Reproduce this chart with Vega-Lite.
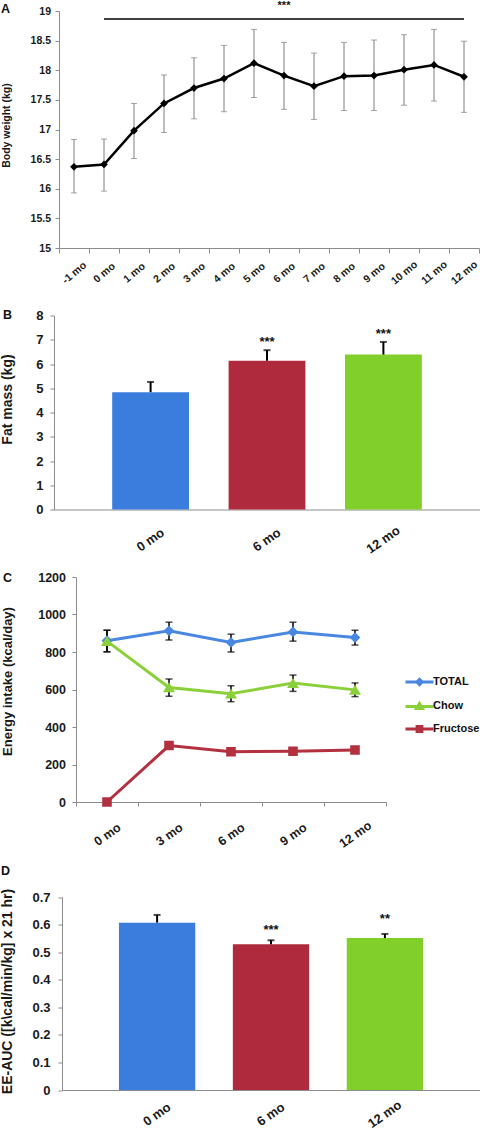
{
  "$schema": "https://vega.github.io/schema/vega-lite/v6.json",
  "background": "white",
  "padding": 0,
  "spacing": 67.5,
  "bounds": "flush",
  "resolve": {"legend": {"color": "independent", "shape": "independent"}},
  "config": {
    "font": "Liberation Sans",
    "view": {"stroke": null},
    "axis": {"grid": false, "domainColor": "#8c8c8c", "tickColor": "#8c8c8c", "labelColor": "#1a1a1a", "titleColor": "#1a1a1a", "labelFontWeight": "bold", "titleFontWeight": "bold", "labelFont": "Liberation Sans", "titleFont": "Liberation Sans", "labelOverlap": false},
    "title": {"fontSize": 12.5, "fontWeight": "bold", "color": "#111111", "anchor": "start", "frame": "group", "offset": 0, "font": "Liberation Sans"}
  },
  "vconcat": [
    {
      "width": 426, "height": 237,
      "title": {"text": "A", "dx": -53, "dy": 19},
      "data": {"values": [
        {"m": "-1 mo", "w": 16.37, "lo": 15.93, "hi": 16.83},
        {"m": "0 mo", "w": 16.41, "lo": 15.96, "hi": 16.84},
        {"m": "1 mo", "w": 16.98, "lo": 16.51, "hi": 17.44},
        {"m": "2 mo", "w": 17.44, "lo": 16.95, "hi": 17.92},
        {"m": "3 mo", "w": 17.70, "lo": 17.18, "hi": 18.21},
        {"m": "4 mo", "w": 17.86, "lo": 17.30, "hi": 18.42},
        {"m": "5 mo", "w": 18.12, "lo": 17.54, "hi": 18.69},
        {"m": "6 mo", "w": 17.91, "lo": 17.34, "hi": 18.47},
        {"m": "7 mo", "w": 17.73, "lo": 17.17, "hi": 18.29},
        {"m": "8 mo", "w": 17.90, "lo": 17.32, "hi": 18.47},
        {"m": "9 mo", "w": 17.91, "lo": 17.32, "hi": 18.51},
        {"m": "10 mo", "w": 18.01, "lo": 17.41, "hi": 18.60},
        {"m": "11 mo", "w": 18.09, "lo": 17.48, "hi": 18.69},
        {"m": "12 mo", "w": 17.89, "lo": 17.29, "hi": 18.49}
      ]},
      "encoding": {
        "x": {"field": "m", "type": "ordinal",
          "scale": {"domain": ["-1 mo","0 mo","1 mo","2 mo","3 mo","4 mo","5 mo","6 mo","7 mo","8 mo","9 mo","10 mo","11 mo","12 mo"], "range": [5, 425], "paddingInner": 0, "paddingOuter": 0},
          "axis": {"title": null, "labelAngle": -40, "labelAlign": "center", "labelBaseline": "middle", "labelPadding": 19.5, "tickBand": "extent", "tickSize": 5, "labelFontSize": 10.5}}
      },
      "layer": [
        {"mark": {"type": "rule", "color": "#7f7f7f", "strokeWidth": 1},
         "encoding": {
           "y": {"field": "lo", "type": "quantitative", "title": "Body weight (kg)", "scale": {"domain": [15, 19], "zero": false},
             "axis": {"values": [15, 15.5, 16, 16.5, 17, 17.5, 18, 18.5, 19], "tickCount": 20, "labelOverlap": false, "format": "~g", "labelFontSize": 10.5, "titleFontSize": 10.5, "tickSize": 4, "labelPadding": 4.5, "offset": -5, "titleX": -48, "titleY": 114, "titleBaseline": "bottom"}},
           "y2": {"field": "hi"}}},
        {"mark": {"type": "tick", "color": "#7f7f7f", "size": 6, "thickness": 1},
         "encoding": {"y": {"field": "lo", "type": "quantitative", "title": "Body weight (kg)"}}},
        {"mark": {"type": "tick", "color": "#7f7f7f", "size": 6, "thickness": 1},
         "encoding": {"y": {"field": "hi", "type": "quantitative", "title": "Body weight (kg)"}}},
        {"mark": {"type": "line", "color": "#000000", "strokeWidth": 2.5},
         "encoding": {"y": {"field": "w", "type": "quantitative", "title": "Body weight (kg)"}, "order": {"value": null}}},
        {"mark": {"type": "point", "shape": "diamond", "filled": true, "color": "#000000", "size": 60, "opacity": 1},
         "encoding": {"y": {"field": "w", "type": "quantitative", "title": "Body weight (kg)"}}},
        {"data": {"values": [{"a": "0 mo", "b": "12 mo", "y": 18.865}]},
         "mark": {"type": "rule", "color": "#000000", "strokeWidth": 1.5},
         "encoding": {"x": {"field": "a", "type": "ordinal"}, "x2": {"field": "b"}, "y": {"field": "y", "type": "quantitative", "title": "Body weight (kg)"}}},
        {"data": {"values": [{"m": "6 mo", "y": 19.03, "t": "***"}]},
         "mark": {"type": "text", "fontSize": 11, "fontWeight": "bold", "baseline": "alphabetic", "color": "#111111"},
         "encoding": {"y": {"field": "y", "type": "quantitative", "title": "Body weight (kg)"}, "text": {"field": "t"}}}
      ]
    },
    {
      "width": 426, "height": 194,
      "title": {"text": "B", "dx": -51, "dy": 16},
      "data": {"values": [
        {"m": "0 mo", "v": 4.84, "hi": 5.26},
        {"m": "6 mo", "v": 6.13, "hi": 6.57},
        {"m": "12 mo", "v": 6.39, "hi": 6.91}
      ]},
      "encoding": {
        "x": {"field": "m", "type": "ordinal",
          "scale": {"domain": ["0 mo", "6 mo", "12 mo"], "paddingInner": 0.34, "paddingOuter": 0.5},
          "axis": {"title": null, "ticks": false, "tickSize": 0, "labelAngle": -35, "labelAlign": "center", "labelBaseline": "middle", "labelPadding": 30, "labelFontSize": 13}}
      },
      "layer": [
        {"mark": {"type": "bar"},
         "encoding": {
           "y": {"field": "v", "type": "quantitative", "title": "Fat mass (kg)", "scale": {"domain": [0, 8]},
             "axis": {"values": [0, 1, 2, 3, 4, 5, 6, 7, 8], "tickCount": 20, "labelOverlap": false, "format": "d", "labelFontSize": 13, "titleFontSize": 14, "tickSize": 4, "labelPadding": 7, "titleX": -39.7, "titleY": 83.5, "titleBaseline": "bottom"}},
           "fill": {"field": "m", "type": "nominal", "scale": {"domain": ["0 mo", "6 mo", "12 mo"], "range": ["#3b7ddd", "#ae2a3c", "#80cf2a"]}, "legend": null}}},
        {"mark": {"type": "rule", "color": "#000000", "strokeWidth": 2},
         "encoding": {"y": {"field": "v", "type": "quantitative", "title": "Fat mass (kg)"}, "y2": {"field": "hi"}}},
        {"mark": {"type": "tick", "color": "#000000", "size": 7, "thickness": 2},
         "encoding": {"y": {"field": "hi", "type": "quantitative", "title": "Fat mass (kg)"}}},
        {"data": {"values": [{"m": "6 mo", "sy": 6.76, "s": "***"}, {"m": "12 mo", "sy": 7.09, "s": "***"}]},
         "mark": {"type": "text", "fontSize": 13, "fontWeight": "bold", "baseline": "alphabetic", "color": "#111111"},
         "encoding": {"y": {"field": "sy", "type": "quantitative", "title": "Fat mass (kg)"}, "text": {"field": "s"}}}
      ]
    },
    {
      "width": 426, "height": 225,
      "title": {"text": "C", "dx": -51, "dy": 17},
      "data": {"values": [
        {"series": "TOTAL", "m": "0 mo", "v": 860, "lo": 801, "hi": 916},
        {"series": "TOTAL", "m": "3 mo", "v": 913, "lo": 864, "hi": 959},
        {"series": "TOTAL", "m": "6 mo", "v": 851, "lo": 800, "hi": 895},
        {"series": "TOTAL", "m": "9 mo", "v": 907, "lo": 858, "hi": 959},
        {"series": "TOTAL", "m": "12 mo", "v": 877, "lo": 837, "hi": 916},
        {"series": "Chow", "m": "0 mo", "v": 858, "lo": 801, "hi": 916},
        {"series": "Chow", "m": "3 mo", "v": 611, "lo": 564, "hi": 656},
        {"series": "Chow", "m": "6 mo", "v": 577, "lo": 535, "hi": 620},
        {"series": "Chow", "m": "9 mo", "v": 634, "lo": 590, "hi": 677},
        {"series": "Chow", "m": "12 mo", "v": 598, "lo": 562, "hi": 635},
        {"series": "Fructose", "m": "0 mo", "v": 0},
        {"series": "Fructose", "m": "3 mo", "v": 301},
        {"series": "Fructose", "m": "6 mo", "v": 268},
        {"series": "Fructose", "m": "9 mo", "v": 271},
        {"series": "Fructose", "m": "12 mo", "v": 277}
      ]},
      "encoding": {
        "x": {"field": "m", "type": "ordinal",
          "scale": {"domain": ["0 mo", "3 mo", "6 mo", "9 mo", "12 mo"], "range": [22, 332], "paddingInner": 0, "paddingOuter": 0},
          "axis": {"title": null, "labelAngle": -35, "labelAlign": "center", "labelBaseline": "middle", "labelPadding": 28, "tickBand": "extent", "tickSize": 4, "labelFontSize": 12.5}}
      },
      "layer": [
        {"mark": {"type": "line", "strokeWidth": 3},
         "encoding": {
           "y": {"field": "v", "type": "quantitative", "title": "Energy intake (kcal/day)", "scale": {"domain": [0, 1200]},
             "axis": {"values": [0, 200, 400, 600, 800, 1000, 1200], "tickCount": 20, "labelOverlap": false, "format": "d", "labelFontSize": 12.5, "titleFontSize": 13, "tickSize": 4, "labelPadding": 6.5, "offset": -22, "titleX": -61.7, "titleY": 104, "titleBaseline": "bottom"}},
           "stroke": {"field": "series", "type": "nominal", "scale": {"domain": ["TOTAL", "Chow", "Fructose"], "range": ["#4a87e0", "#8bcf3a", "#b2303f"]}, "legend": null},
           "order": {"value": null}}},
        {"mark": {"type": "rule", "color": "#000000", "strokeWidth": 1.5},
         "encoding": {"y": {"field": "lo", "type": "quantitative", "title": "Energy intake (kcal/day)"}, "y2": {"field": "hi"}}},
        {"mark": {"type": "tick", "color": "#000000", "size": 7, "thickness": 1.5},
         "encoding": {"y": {"field": "lo", "type": "quantitative", "title": "Energy intake (kcal/day)"}}},
        {"mark": {"type": "tick", "color": "#000000", "size": 7, "thickness": 1.5},
         "encoding": {"y": {"field": "hi", "type": "quantitative", "title": "Energy intake (kcal/day)"}}},
        {"mark": {"type": "point", "filled": true, "size": 1600, "opacity": 1},
         "encoding": {
           "y": {"field": "v", "type": "quantitative", "title": "Energy intake (kcal/day)"},
           "color": {"field": "series", "type": "nominal", "scale": {"domain": ["TOTAL", "Chow", "Fructose"], "range": ["#4a87e0", "#8bcf3a", "#b2303f"]},
             "legend": {"orient": "none", "legendX": 354, "legendY": 93.5, "title": null, "symbolSize": 400, "labelFontSize": 11, "labelFontWeight": "bold", "labelColor": "#111111", "labelFont": "Liberation Sans", "labelOffset": 2, "rowPadding": 3, "symbolStrokeWidth": 3, "symbolOpacity": 1,
               "encode": {"symbols": {"update": {"stroke": {"scale": "color", "field": "value"}, "strokeWidth": {"value": 3}}}}}},
           "shape": {"field": "series", "type": "nominal", "scale": {"domain": ["TOTAL", "Chow", "Fructose"], "range": ["M-1.4,0H1.4M0,-0.27L0.27,0L0,0.27L-0.27,0Z", "M-1.4,0.06H1.4M0,-0.26L0.3,0.24L-0.3,0.24Z", "M-1.4,0H1.4M-0.24,-0.24H0.24V0.24H-0.24Z"]},
             "legend": {"orient": "none", "legendX": 354, "legendY": 93.5, "title": null, "symbolSize": 400, "labelFontSize": 11, "labelFontWeight": "bold", "labelColor": "#111111", "labelFont": "Liberation Sans", "labelOffset": 2, "rowPadding": 3, "symbolStrokeWidth": 3, "symbolOpacity": 1,
               "encode": {"symbols": {"update": {"stroke": {"scale": "color", "field": "value"}, "strokeWidth": {"value": 3}}}}}}}}
      ]
    },
    {
      "width": 426, "height": 220.5,
      "title": {"text": "D", "dx": -53, "dy": 12},
      "data": {"values": [
        {"m": "0 mo", "v": 0.607, "hi": 0.635},
        {"m": "6 mo", "v": 0.529, "hi": 0.543},
        {"m": "12 mo", "v": 0.551, "hi": 0.566}
      ]},
      "encoding": {
        "x": {"field": "m", "type": "ordinal",
          "scale": {"domain": ["0 mo", "6 mo", "12 mo"], "range": [8, 426], "paddingInner": 0.33, "paddingOuter": 0.5},
          "axis": {"title": null, "ticks": false, "tickSize": 0, "labelAngle": -35, "labelAlign": "center", "labelBaseline": "middle", "labelPadding": 24, "labelFontSize": 13}}
      },
      "layer": [
        {"mark": {"type": "bar"},
         "encoding": {
           "y": {"field": "v", "type": "quantitative", "title": "EE-AUC ([k\\cal/min/kg] x 21 hr)", "scale": {"domain": [0, 0.7], "range": [220.5, 27.5]},
             "axis": {"values": [0, 0.1, 0.2, 0.3, 0.4, 0.5, 0.6, 0.7], "tickCount": 20, "labelOverlap": false, "format": ".1~f", "labelFontSize": 13, "titleFontSize": 14, "tickSize": 4, "labelPadding": 8, "offset": -8, "titleX": -47.7, "titleY": 121.5, "titleBaseline": "bottom"}},
           "fill": {"field": "m", "type": "nominal", "scale": {"domain": ["0 mo", "6 mo", "12 mo"], "range": ["#3b7ddd", "#ae2a3c", "#80cf2a"]}, "legend": null}}},
        {"mark": {"type": "rule", "color": "#000000", "strokeWidth": 2},
         "encoding": {"y": {"field": "v", "type": "quantitative", "title": "EE-AUC ([k\\cal/min/kg] x 21 hr)"}, "y2": {"field": "hi"}}},
        {"mark": {"type": "tick", "color": "#000000", "size": 7, "thickness": 2},
         "encoding": {"y": {"field": "hi", "type": "quantitative", "title": "EE-AUC ([k\\cal/min/kg] x 21 hr)"}}},
        {"data": {"values": [{"m": "6 mo", "sy": 0.566, "s": "***"}, {"m": "12 mo", "sy": 0.6075, "s": "**"}]},
         "mark": {"type": "text", "fontSize": 13, "fontWeight": "bold", "baseline": "alphabetic", "color": "#111111"},
         "encoding": {"y": {"field": "sy", "type": "quantitative", "title": "EE-AUC ([k\\cal/min/kg] x 21 hr)"}, "text": {"field": "s"}}}
      ]
    }
  ]
}
